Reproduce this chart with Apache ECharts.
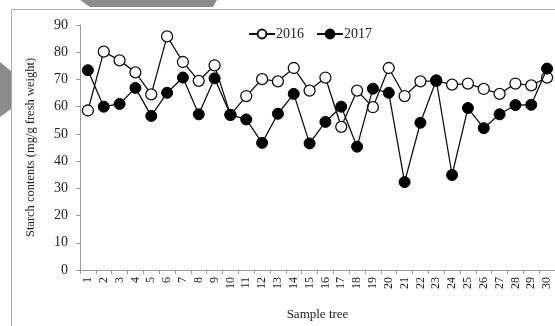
<!DOCTYPE html>
<html>
<head>
<meta charset="utf-8">
<script src="https://cdn.jsdelivr.net/npm/echarts@6/dist/echarts.min.js"></script>
<style>
  html, body { margin: 0; padding: 0; background: #fff; }
  #chart { width: 555px; height: 326px; }
</style>
</head>
<body>
<div id="chart"></div>
<script>
// Sample trees 1..30
const trees = ['1','2','3','4','5','6','7','8','9','10','11','12','13','14','15','16','17','18','19','20','21','22','23','24','25','26','27','28','29','30'];

// Starch contents (mg/g fresh weight)
const starch2016 = [58.6, 80.2, 77.0, 72.6, 64.5, 85.8, 76.4, 69.5, 75.2, 57.0,
                    63.9, 70.1, 69.3, 74.2, 65.9, 70.7, 52.6, 65.9, 59.8, 74.2,
                    63.9, 69.3, 69.5, 68.1, 68.5, 66.5, 64.7, 68.5, 67.8, 70.7];
const starch2017 = [73.4, 60.0, 61.0, 66.9, 56.6, 65.1, 70.7, 57.2, 70.4, 57.0,
                    55.3, 46.7, 57.4, 64.7, 46.5, 54.4, 60.0, 45.3, 66.6, 65.1,
                    32.3, 54.1, 69.7, 34.9, 59.5, 52.1, 57.2, 60.6, 60.7, 74.0];

const yTicks = { min: 0, max: 90, interval: 10 };

const serif = 'Liberation Serif, Times New Roman, serif';
const axisGray = '#9a9a9a';

const chart = echarts.init(document.getElementById('chart'), null, { renderer: 'canvas' });

chart.setOption({
  animation: false,
  backgroundColor: '#fff',
  textStyle: { fontFamily: serif, color: '#222' },
  graphic: [
    // outer frame
    { type: 'polyline', z: 0, shape: { points: [[11.5, 330], [11.5, 9.5], [560, 9.5]] },
      style: { stroke: '#b0b0b0', lineWidth: 1, fill: null } },
    // grey corner tabs
    { type: 'polygon', z: 1, shape: { points: [[80, 0], [217, 0], [213, 7], [90, 7]] },
      style: { fill: '#8c8c8c' } },
    { type: 'polygon', z: 1, shape: { points: [[0, 62], [11, 71], [11, 109], [0, 117]] },
      style: { fill: '#8c8c8c' } }
  ],
  legend: {
    left: 243, top: 22,
    itemWidth: 26, itemHeight: 11, itemGap: 12,
    textStyle: { fontFamily: serif, fontSize: 14, color: '#222', padding: [0, 0, 0, -4] },
    data: ['2016', '2017']
  },
  grid: { left: 80, top: 25, bottom: 48, right: -2, containLabel: false },
  xAxis: {
    type: 'category',
    data: trees,
    boundaryGap: true,
    name: 'Sample tree',
    nameLocation: 'middle',
    nameGap: 38,
    nameTextStyle: { fontFamily: serif, fontSize: 13, color: '#222' },
    axisLine: { lineStyle: { color: axisGray, width: 1 } },
    axisTick: { show: true, length: 4, lineStyle: { color: axisGray } },
    axisLabel: { rotate: 90, fontSize: 12, margin: 7, color: '#222', fontFamily: serif, interval: 0 },
    splitLine: { show: false }
  },
  yAxis: {
    type: 'value',
    min: yTicks.min, max: yTicks.max, interval: yTicks.interval,
    name: 'Starch contents (mg/g fresh weight)',
    nameLocation: 'middle',
    nameRotate: 90,
    nameGap: 43,
    nameTextStyle: { fontFamily: serif, fontSize: 12.5, color: '#222' },
    axisLine: { show: true, lineStyle: { color: axisGray, width: 1 } },
    axisTick: { show: true, length: 4, lineStyle: { color: axisGray } },
    axisLabel: { fontSize: 14, margin: 12, color: '#222', fontFamily: serif },
    splitLine: { show: false }
  },
  series: [
    {
      name: '2016', type: 'line', data: starch2016,
      symbol: 'circle', symbolSize: 11, z: 2,
      lineStyle: { color: '#111', width: 1.3 },
      itemStyle: { color: '#fff', borderColor: '#111', borderWidth: 1.3 }
    },
    {
      name: '2017', type: 'line', data: starch2017,
      symbol: 'circle', symbolSize: 11, z: 3,
      lineStyle: { color: '#111', width: 1.3 },
      itemStyle: { color: '#000', borderColor: '#000', borderWidth: 1 }
    }
  ]
});
</script>
</body>
</html>
